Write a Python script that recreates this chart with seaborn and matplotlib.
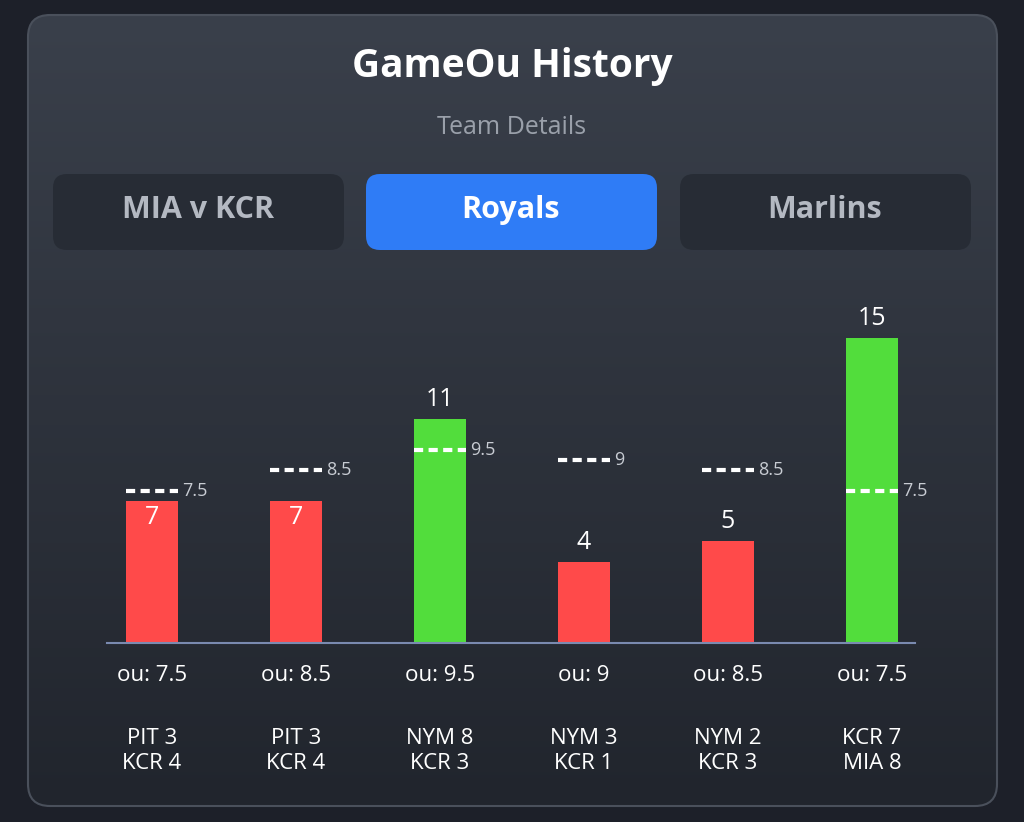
import matplotlib
matplotlib.use("Agg")
import matplotlib.pyplot as plt
from matplotlib.patches import FancyBboxPatch
import numpy as np
import pandas as pd
import seaborn as sns

games = ["PIT 3\nKCR 4", "PIT 3\nKCR 4", "NYM 8\nKCR 3", "NYM 3\nKCR 1", "NYM 2\nKCR 3", "KCR 7\nMIA 8"]
totals = [7, 7, 11, 4, 5, 15]
ou_lines = [7.5, 8.5, 9.5, 9, 8.5, 7.5]
tabs = ["MIA v KCR", "Royals", "Marlins"]

RED, GREEN = "#ff4a4a", "#52dd3c"
df = pd.DataFrame({"game": range(len(totals)), "total": totals,
                   "result": ["over" if t > o else "under" for t, o in zip(totals, ou_lines)]})

plt.rcParams["font.family"] = "Open Sans"
fig = plt.figure(figsize=(10.24, 8.22), dpi=100)
fig.patch.set_facecolor("#1d2029")

# card background with vertical gradient
bg = fig.add_axes([0, 0, 1, 1], zorder=-5)
bg.set_xlim(0, 1024); bg.set_ylim(822, 0); bg.axis("off")
grad = np.linspace(0, 1, 256)[:, None]
cmap = matplotlib.colors.LinearSegmentedColormap.from_list("g", ["#3a404b", "#21252d"])
img = bg.imshow(grad, cmap=cmap, extent=[28, 997, 806, 15], aspect="auto")
card = FancyBboxPatch((28, 15), 969, 791, boxstyle="round,pad=0,rounding_size=22",
                      fc="none", ec="#4a505b", lw=1.5)
bg.add_patch(card)
img.set_clip_path(card)

bg.text(512, 66, "GameOu History", ha="center", va="center", color="white", fontsize=28, fontweight="bold")
bg.text(512, 128, "Team Details", ha="center", va="center", color="#9aa0aa", fontsize=18)
for i, (name, x0) in enumerate(zip(tabs, [53, 366, 680])):
    active = i == 1
    bg.add_patch(FancyBboxPatch((x0, 174), 291, 76, boxstyle="round,pad=0,rounding_size=14",
                                fc="#2f7cf6" if active else "#272c35", ec="none"))
    bg.text(x0 + 145, 210, name, ha="center", va="center", fontsize=22, fontweight="bold",
            color="white" if active else "#b4b9c2")

ax = fig.add_axes([80 / 1024, (822 - 643) / 822, 864 / 1024, 363 / 822])
ax.set_facecolor("none")
sns.barplot(data=df, x="game", y="total", hue="result", palette={"over": GREEN, "under": RED},
            width=0.36, dodge=False, legend=False, ax=ax, saturation=1)
ax.set_xlim(-0.5, len(totals) - 0.5)
ax.set_ylim(0, 17.86)
ax.axis("off")
ax.plot([-0.31, 5.30], [0, 0], color="#7a8ab0", lw=1.5, clip_on=False)

for i, (t, o, g) in enumerate(zip(totals, ou_lines, games)):
    ax.plot([i - 0.18, i + 0.18], [o, o], color="white", lw=3, ls=(0, (2.2, 1.3)))
    ax.text(i + 0.21, o, f"{o:g}", va="center", ha="left", color="#c8ccd3", fontsize=13)
    if o > t and o - t < 2:
        ax.text(i, t - 0.2, str(t), ha="center", va="top", color="white", fontsize=18)
    else:
        ax.text(i, t + 0.35, str(t), ha="center", va="bottom", color="white", fontsize=18)
    ax.text(i, -1.6, f"ou: {o:g}", ha="center", va="center", color="white", fontsize=16)
    ax.text(i, -5.3, g, ha="center", va="center", color="white", fontsize=16, linespacing=1.25)

fig.savefig("out.png", dpi=100, facecolor=fig.get_facecolor())
